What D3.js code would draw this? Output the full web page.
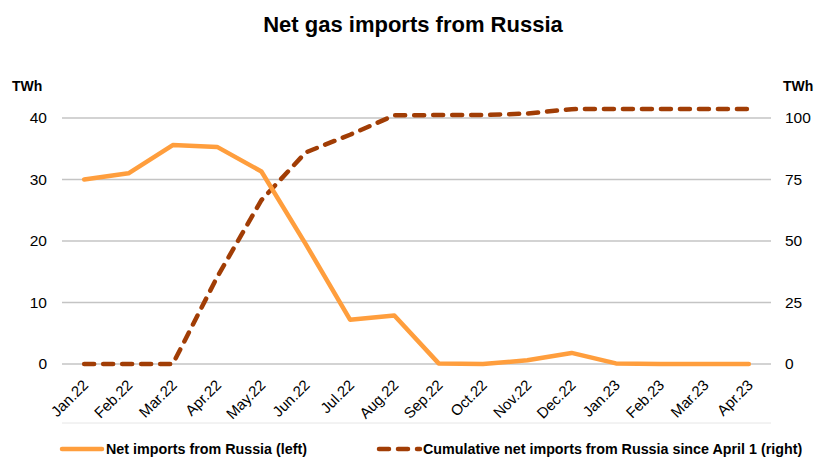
<!DOCTYPE html>
<html><head><meta charset="utf-8">
<script src="https://cdn.jsdelivr.net/npm/d3@7"></script>
<style>
body{margin:0;background:#fff;}
text{font-family:"Liberation Sans",Arial,sans-serif;fill:#000;}
</style></head>
<body><svg id="c" width="817" height="457"></svg>
<script>
const months = ["Jan.22","Feb.22","Mar.22","Apr.22","May.22","Jun.22","Jul.22","Aug.22","Sep.22","Oct.22","Nov.22","Dec.22","Jan.23","Feb.23","Mar.23","Apr.23"];
const netImports = [30.0,31.0,35.6,35.3,31.3,19.5,7.2,7.9,0.1,0.0,0.6,1.8,0.1,0.0,0.0,0.0];
const cumulative = [0,0,0,35.3,66.6,86.0,93.2,101.1,101.2,101.2,101.8,103.6,103.7,103.7,103.7,103.7];
const leftTicks = [0,10,20,30,40];
const rightTicks = [0,25,50,75,100];
const title = "Net gas imports from Russia";
const unit = "TWh";
const seriesNames = ["Net imports from Russia (left)","Cumulative net imports from Russia since April 1 (right)"];

const svg = d3.select("#c");
const x = d3.scalePoint().domain(months).range([62,771]).padding(0.5);
const yL = d3.scaleLinear().domain([0,40]).range([364,118]);
const yR = d3.scaleLinear().domain([0,100]).range([364,118]);
const cOrange = "#FF9E3D", cBrown = "#A13D05";

svg.append("text").attr("x",413).attr("y",32).attr("text-anchor","middle")
  .style("font-size","22px").style("font-weight","bold").text(title);
svg.append("text").attr("x",12).attr("y",91).style("font-size","14px").style("font-weight","bold").text(unit);
svg.append("text").attr("x",783).attr("y",91).style("font-size","14px").style("font-weight","bold").text(unit);

// grid
svg.append("g").selectAll("line").data(leftTicks).join("line")
  .attr("x1",62).attr("x2",771).attr("y1",d=>yL(d)).attr("y2",d=>yL(d))
  .attr("stroke","#c4c4c4").attr("stroke-width",1.3);

// left axis
const gl = svg.append("g").attr("transform","translate(62,0)")
  .call(d3.axisLeft(yL).tickValues(leftTicks).tickSize(0).tickPadding(15));
gl.select(".domain").remove();
gl.selectAll("text").style("font-size","15.5px").style("font-family","Liberation Sans, Arial, sans-serif").attr("fill","#000");

const gr = svg.append("g").attr("transform","translate(771,0)")
  .call(d3.axisRight(yR).tickValues(rightTicks).tickSize(0).tickPadding(14));
gr.select(".domain").remove();
gr.selectAll("text").style("font-size","15.5px").style("font-family","Liberation Sans, Arial, sans-serif").attr("fill","#000");

// bottom faint line
svg.append("line").attr("x1",62).attr("x2",771).attr("y1",423).attr("y2",423)
  .attr("stroke","#e6e6e6").attr("stroke-width",1);

// x labels
svg.append("g").selectAll("text").data(months).join("text")
  .attr("transform",d=>`translate(${x(d)+5},386) rotate(-45)`)
  .attr("text-anchor","end").style("font-size","15px").text(d=>d);

// lines
const lineL = d3.line().x((d,i)=>x(months[i])).y(d=>yL(d));
const lineR = d3.line().x((d,i)=>x(months[i])).y(d=>yR(d));
svg.append("path").datum(cumulative).attr("d",lineR).attr("fill","none")
  .attr("stroke",cBrown).attr("stroke-width",4.5).attr("stroke-dasharray","10,9").attr("stroke-linecap","round");
svg.append("path").datum(netImports).attr("d",lineL).attr("fill","none")
  .attr("stroke",cOrange).attr("stroke-width",4.5).attr("stroke-linejoin","round").attr("stroke-linecap","round");

// legend
svg.append("line").attr("x1",62).attr("x2",102).attr("y1",449).attr("y2",449)
  .attr("stroke",cOrange).attr("stroke-width",4.5).attr("stroke-linecap","round");
svg.append("text").attr("x",106).attr("y",454).style("font-size","14.3px").style("font-weight","bold").text(seriesNames[0]);
svg.append("line").attr("x1",379).attr("x2",420).attr("y1",449).attr("y2",449)
  .attr("stroke",cBrown).attr("stroke-width",4.5).attr("stroke-dasharray","10,9").attr("stroke-linecap","round");
svg.append("text").attr("x",423).attr("y",454).style("font-size","14.3px").style("font-weight","bold").text(seriesNames[1]);
</script></body></html>
